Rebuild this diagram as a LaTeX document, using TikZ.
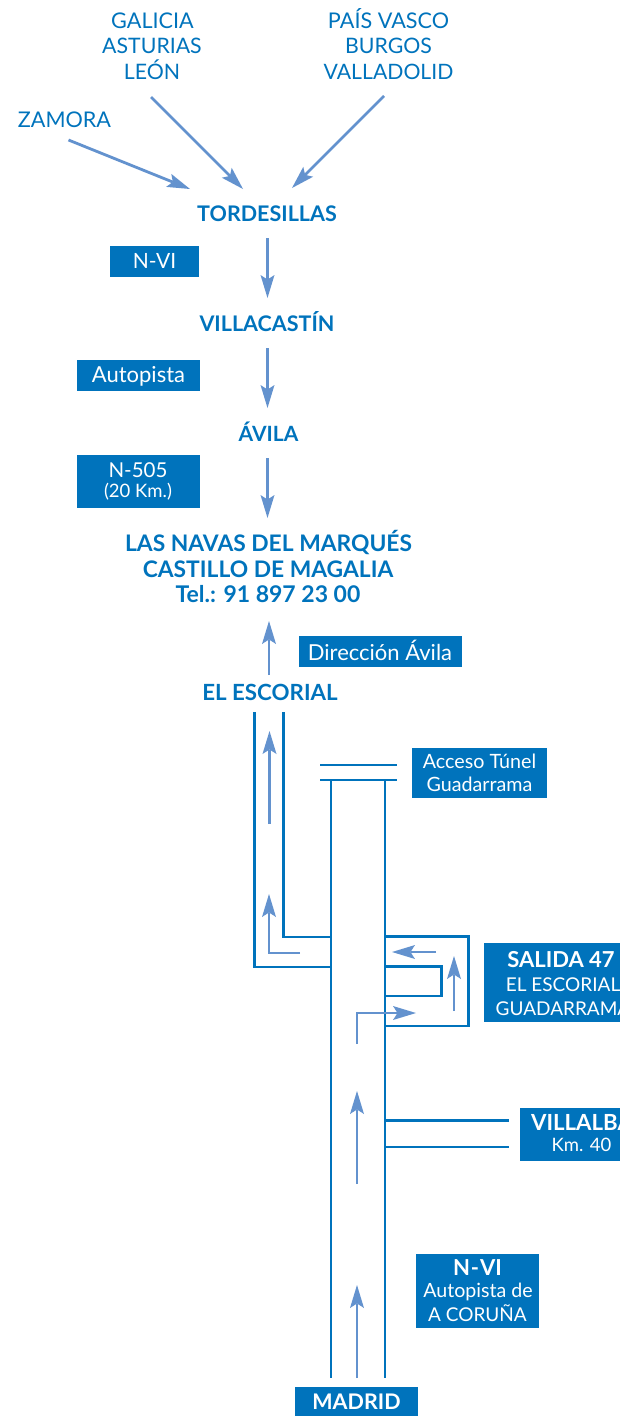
\documentclass[tikz,border=0pt]{standalone}
\usepackage{fontspec}
\setmainfont{Lato}
\usetikzlibrary{arrows.meta}
\definecolor{road}{HTML}{0073BC}
\definecolor{flow}{HTML}{6392CE}
\tikzset{
  roadline/.style={draw=road,line width=2.8pt,line join=miter},
  flowline/.style={draw=flow,line width=2.8pt,line join=miter,-{Stealth[length=23pt,width=14pt,inset=4.5pt,line width=0pt]}},
  txt/.style={inner sep=0pt,anchor=base},
  dark/.style={txt,text=road},
  light/.style={txt,text=white},
  tag/.style={fill=road,inner sep=0pt,anchor=north west},
}
\newcommand{\fs}[1]{\fontsize{#1}{#1}\selectfont}
\newcommand{\fb}[1]{\fontsize{#1}{#1}\selectfont\bfseries}
\newcommand{\tagbox}[5]{\node[tag,minimum width=#3pt,minimum height=#4pt] (#5) at (#1,#2) {};}
\begin{document}
\begin{tikzpicture}[x=1pt,y=-1pt]
\useasboundingbox (0,0) rectangle (620,1416);
\clip (0,0) rectangle (620,1416);
% places
\node[dark,font=\fs{21.6}] (galicia) at (152.5,28) {GALICIA};
\node[dark,font=\fs{21.3}] (asturias) at (152,53) {ASTURIAS};
\node[dark,font=\fs{21.3}] (leon) at (152,79) {LEÓN};
\node[dark,font=\fs{21.6}] (pais) at (388.5,28) {PAÍS VASCO};
\node[dark,font=\fs{21.3}] (burgos) at (388.5,53) {BURGOS};
\node[dark,font=\fs{21.2}] (valladolid) at (388.5,79) {VALLADOLID};
\node[dark,font=\fs{21.6}] (zamora) at (64.5,127) {ZAMORA};
\node[dark,font=\fb{21.5}] (tordesillas) at (267,221.5) {TORDESILLAS};
\node[dark,font=\fb{21.5}] (villacastin) at (267,331) {VILLACASTÍN};
\node[dark,font=\fb{21}] (avila) at (268.5,441) {ÁVILA};
\node[dark,font=\fb{22.8}] (navas) at (268.5,551) {LAS NAVAS DEL MARQUÉS};
\node[dark,font=\fb{22.8}] (castillo) at (268,577) {CASTILLO DE MAGALIA};
\node[dark,font=\fb{23}] (tel) at (268,602) {Tel.: 91 897 23 00};
\node[dark,font=\fb{22.3}] (escorial) at (270,700) {EL ESCORIAL};
% tags
\tagbox{110}{246}{89}{31}{nvi}
\node[light,font=\fs{21}] (nvit) at (154.5,268) {N-VI};
\tagbox{77}{360}{123}{31}{autopista}
\node[light,font=\fs{22}] (autopistat) at (138.5,382) {Autopista};
\tagbox{77}{455}{123}{53}{nfive}
\node[light,font=\fs{20.5}] (nfivet) at (138,477) {N-505};
\node[light,font=\fs{18.5}] (kmt) at (138,497) {(20 Km.)};
\tagbox{299}{636}{163}{31}{direccion}
\node[light,font=\fs{22}] (direcciont) at (380,660) {Dirección Ávila};
\tagbox{412}{748}{135}{50}{acceso}
\node[light,font=\fs{19.7}] (accesot) at (479.5,768) {Acceso Túnel};
\node[light,font=\fs{19.7}] (guadt) at (479.5,791) {Guadarrama};
\tagbox{484}{943}{136}{79}{salida}
\node[light,font=\fb{22}] (salidat) at (561,967) {SALIDA 47};
\node[light,font=\fs{19}] (eleft) at (563,991.5) {EL ESCORIAL};
\node[light,font=\fs{19}] (guadb) at (563,1015) {GUADARRAMA};
\tagbox{520}{1108}{100}{53}{villalba}
\node[light,font=\fb{22.2}] (villalbat) at (582,1130) {VILLALBA};
\node[light,font=\fs{18.5}] (kmfour) at (581.5,1151) {Km. 40};
\tagbox{416}{1254}{123}{74}{coruna}
\node[light,font=\fb{22}] (nvib) at (477.5,1275) {N\kern1pt-\kern1pt VI};
\node[light,font=\fs{19.6}] (autob) at (478,1297) {Autopista de};
\node[light,font=\fs{19}] (acor) at (477.5,1321) {A CORUÑA};
\tagbox{295}{1387}{123}{29}{madrid}
\node[light,font=\fb{21.5}] (madridt) at (356.5,1409) {MADRID};
% road anchors
\coordinate (tl) at (320,765); \coordinate (tr) at (397,765);
\coordinate (bl) at (320,780); \coordinate (br) at (397,780);
\coordinate (ml) at (331,780); \coordinate (mr) at (385,780);
\coordinate (mlb) at (331,1378); \coordinate (mrb) at (385,1378);
\coordinate (ea) at (254.5,712); \coordinate (eb) at (254.5,967); \coordinate (ec) at (331,967);
\coordinate (fa) at (283.5,712); \coordinate (fb) at (283.5,937); \coordinate (fc) at (331,937);
\coordinate (sa) at (385,936.5); \coordinate (sb) at (468.5,936.5); \coordinate (sc) at (468.5,1026); \coordinate (sd) at (385,1026);
\coordinate (ia) at (385,966.5); \coordinate (ib) at (441.5,966.5); \coordinate (ic) at (441.5,996); \coordinate (id) at (385,996);
\coordinate (va) at (385,1120.5); \coordinate (vb) at (509,1120.5);
\coordinate (wa) at (385,1147); \coordinate (wb) at (509,1147);
\draw[roadline] (tl) -- (tr);
\draw[roadline] (bl) -- (br);
\draw[roadline] (ml) -- (mlb);
\draw[roadline] (mr) -- (mrb);
\draw[roadline] (ea) -- (eb) -- (ec);
\draw[roadline] (fa) -- (fb) -- (fc);
\draw[roadline] (sa) -- (sb) -- (sc) -- (sd);
\draw[roadline] (ia) -- (ib) -- (ic) -- (id);
\draw[roadline] (va) -- (vb);
\draw[roadline] (wa) -- (wb);
% flow anchors
\coordinate (a1) at (68.5,140); \coordinate (a1e) at (190,189);
\coordinate (a2) at (151,97); \coordinate (a2e) at (243,189);
\coordinate (a3) at (384,96); \coordinate (a3e) at (292,188);
\draw[flowline] (a1) -- (a1e);
\draw[flowline] (a2) -- (a2e);
\draw[flowline] (a3) -- (a3e);
\coordinate (b1) at (267.5,238); \coordinate (b1e) at (267.5,298);
\coordinate (b2) at (267.5,348); \coordinate (b2e) at (267.5,408);
\coordinate (b3) at (267.5,458); \coordinate (b3e) at (267.5,518);
\draw[flowline] (b1) -- (b1e);
\draw[flowline] (b2) -- (b2e);
\draw[flowline] (b3) -- (b3e);
\coordinate (c1) at (269,675); \coordinate (c1e) at (269,621);
\coordinate (c2) at (269.5,824); \coordinate (c2e) at (269.5,731);
\draw[flowline] (c1) -- (c1e);
\draw[flowline] (c2) -- (c2e);
\coordinate (d1) at (300,953); \coordinate (d2) at (269,953); \coordinate (d3) at (269,894);
\draw[flowline] (d1) -- (d2) -- (d3);
\coordinate (e1) at (436,952); \coordinate (e1e) at (392,952);
\draw[flowline] (e1) -- (e1e);
\coordinate (g1) at (454,1011); \coordinate (g1e) at (454,956);
\draw[flowline] (g1) -- (g1e);
\coordinate (h1) at (357,1044); \coordinate (h2) at (357,1013); \coordinate (h3) at (416,1013);
\draw[flowline] (h1) -- (h2) -- (h3);
\coordinate (j1) at (357,1184); \coordinate (j1e) at (357,1091);
\draw[flowline] (j1) -- (j1e);
\coordinate (k1) at (357,1378); \coordinate (k1e) at (357,1285);
\draw[flowline] (k1) -- (k1e);
\end{tikzpicture}
\end{document}
